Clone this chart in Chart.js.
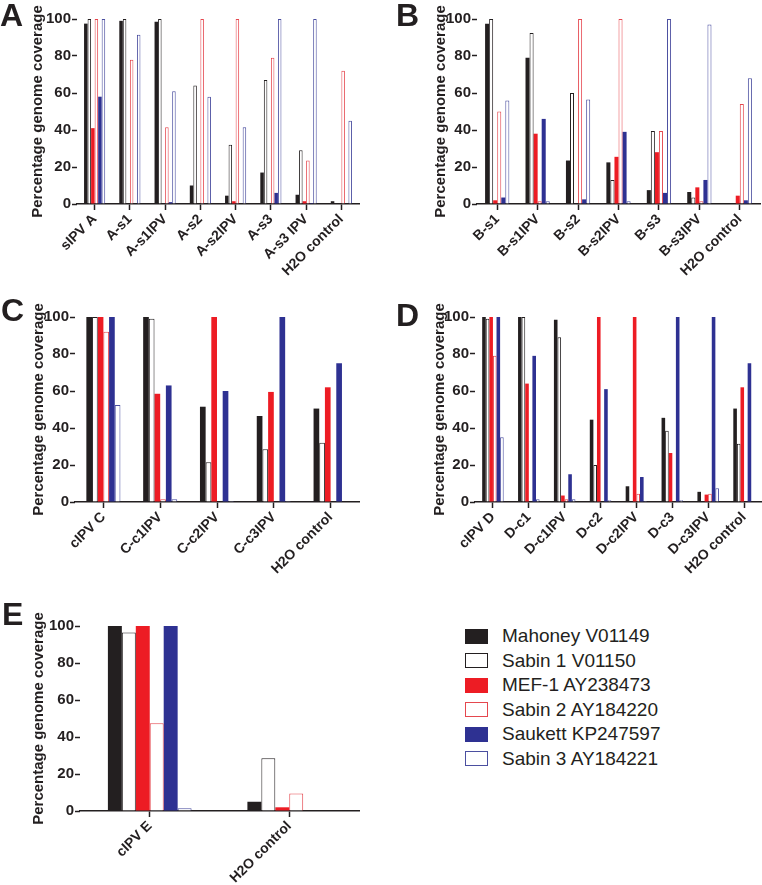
<!DOCTYPE html>
<html>
<head>
<meta charset="utf-8">
<script src="https://cdn.jsdelivr.net/npm/chart.js@4.4.1/dist/chart.umd.min.js"></script>
<style>
    body { margin: 0; background: #fff; font-family: "Liberation Sans", Arial, sans-serif; }
    #wrap { position: relative; width: 762px; height: 885px; overflow: hidden; }
    canvas { position: absolute; }
    .letra { position: absolute; font-weight: bold; font-size: 32px; line-height: 1; color: #231f20; }
    #legenda { position: absolute; left: 465px; top: 624px; font-size: 19px; color: #231f20; }
    .linha { height: 24.5px; display: flex; align-items: center; white-space: nowrap; }
    .caixa { width: 23px; height: 15px; box-sizing: border-box; margin-right: 14px; }
</style>
</head>
<body>
<div id="wrap">
    <canvas id="cA"></canvas>
    <canvas id="cB"></canvas>
    <canvas id="cC"></canvas>
    <canvas id="cD"></canvas>
    <canvas id="cE"></canvas>
    <div class="letra" style="left:0px;top:-1px">A</div>
    <div class="letra" style="left:396px;top:-1px">B</div>
    <div class="letra" style="left:1px;top:294px">C</div>
    <div class="letra" style="left:396px;top:299px">D</div>
    <div class="letra" style="left:2px;top:598px">E</div>
    <div id="legenda"></div>
</div>
<script>
// Séries (mesma ordem em todos os painéis)
const nomesSeries = ['Mahoney V01149', 'Sabin 1 V01150', 'MEF-1 AY238473', 'Sabin 2 AY184220', 'Saukett KP247597', 'Sabin 3 AY184221'];

// Painel A
const categoriasA = ['sIPV A', 'A-s1', 'A-s1IPV', 'A-s2', 'A-s2IPV', 'A-s3', 'A-s3 IPV', 'H2O control'];
const mahoneyA = [97.5, 99, 98.5, 10, 4.5, 17, 5, 1.5];
const sabin1A  = [100, 100, 100, 64, 32, 67, 29, 0];
const mef1A    = [41, 0, 0, 0, 1.5, 0, 1.5, 0];
const sabin2A  = [100, 78, 41.5, 100, 100, 79, 23.5, 72];
const saukettA = [58, 0, 1, 0, 0, 6, 0.5, 0];
const sabin3A  = [100, 91.5, 61, 58, 41.5, 100, 100, 45];

// Painel B
const categoriasB = ['B-s1', 'B-s1IPV', 'B-s2', 'B-s2IPV', 'B-s3', 'B-s3IPV', 'H2O control'];
const mahoneyB = [97.5, 79, 23.5, 22.5, 7.5, 6.5, 0];
const sabin1B  = [100, 92.5, 60, 13, 39.5, 3.5, 0];
const mef1B    = [2, 38, 0, 25.5, 28, 9, 4.5];
const sabin2B  = [50, 1.5, 100, 100, 39.5, 1.5, 54];
const saukettB = [3.5, 46, 2.5, 39, 6, 13, 2];
const sabin3B  = [56, 1.5, 56.5, 1.5, 100, 97, 68];

// Painel C
const categoriasC = ['cIPV C', 'C-c1IPV', 'C-c2IPV', 'C-c3IPV', 'H2O control'];
const mahoneyC = [100, 100, 51.5, 46.5, 50.5];
const sabin1C  = [100, 99, 21.5, 28.5, 32];
const mef1C    = [100, 58.5, 100, 59.5, 62];
const sabin2C  = [92, 1.5, 0, 0, 0];
const saukettC = [100, 63, 60, 100, 75];
const sabin3C  = [52.5, 1.5, 0.5, 0.5, 0];

// Painel D
const categoriasD = ['cIPV D', 'D-c1', 'D-c1IPV', 'D-c2', 'D-c2IPV', 'D-c3', 'D-c3IPV', 'H2O control'];
const mahoneyD = [100, 100, 98.5, 44.5, 8.5, 45.5, 5.5, 50.5];
const sabin1D  = [99, 100, 89, 20, 0, 38.5, 0, 31.5];
const mef1D    = [100, 64, 3.5, 100, 100, 26.5, 4, 62];
const sabin2D  = [79, 0, 1.5, 0, 4.5, 0, 4.5, 0];
const saukettD = [100, 79, 15, 61, 13.5, 100, 100, 75];
const sabin3D  = [35, 1.5, 1.5, 1, 0.5, 1, 7.5, 0];

// Painel E
const categoriasE = ['cIPV E', 'H2O control'];
const mahoneyE = [100, 5];
const sabin1E  = [96.5, 28.5];
const mef1E    = [100, 2];
const sabin2E  = [47.5, 9.5];
const saukettE = [100, 0];
const sabin3E  = [1.5, 0];

// Estilo das séries
const corFundo = ['#231f20', '#ffffff', '#ed1c24', '#ffffff', '#2e3192', '#ffffff'];
const corBorda = ['#231f20', '#231f20', '#ed1c24', '#e5474e', '#2e3192', '#4b4fa0'];
const larguraBorda = [0, 1, 0, 1, 0, 1];

const corTexto = '#231f20';
const familia = '"Liberation Sans", Arial, sans-serif';

function criarPainel(id, pos, categorias, series) {
    const canvas = document.getElementById(id);
    canvas.width = pos.w;
    canvas.height = pos.h;
    canvas.style.left = pos.x + 'px';
    canvas.style.top = pos.y + 'px';
    canvas.style.width = pos.w + 'px';
    canvas.style.height = pos.h + 'px';

    return new Chart(canvas.getContext('2d'), {
        type: 'bar',
        data: {
            labels: categorias,
            datasets: series.map((valores, i) => ({
                label: nomesSeries[i],
                data: valores,
                backgroundColor: corFundo[i],
                borderColor: corBorda[i],
                borderWidth: larguraBorda[i],
                categoryPercentage: 0.6,
                barPercentage: 1.0
            }))
        },
        options: {
            responsive: false,
            animation: false,
            layout: { padding: { left: pos.padLeft, right: pos.padRight, top: pos.padTop, bottom: 0 } },
            plugins: { legend: { display: false }, tooltip: { enabled: false } },
            scales: {
                x: {
                    afterFit: s => { s.height = pos.alturaX; },
                    border: { display: true, color: corTexto, width: 1.5 },
                    grid: { display: true, drawOnChartArea: false, offset: false, tickLength: 6, tickColor: corTexto, tickWidth: 1.5 },
                    ticks: { color: corTexto, font: { family: familia, weight: 'bold', size: 14 }, maxRotation: 45, minRotation: 45, padding: 1, autoSkip: false }
                },
                y: {
                    min: 0,
                    max: 100,
                    afterFit: s => { s.width = pos.larguraY; },
                    border: { display: false },
                    grid: { display: true, drawOnChartArea: false, tickLength: 5, tickColor: corTexto, tickWidth: 1.5 },
                    ticks: { stepSize: 20, color: corTexto, font: { family: familia, weight: 'bold', size: 15 }, padding: 1 },
                    title: {
                        display: true,
                        text: 'Percentage genome coverage',
                        color: corTexto,
                        font: { family: familia, weight: 'bold', size: 15 },
                        padding: 0
                    }
                }
            }
        }
    });
}

criarPainel('cA', { x: 0, y: 0, w: 380, h: 290, padLeft: 29, padRight: 21, padTop: 19, larguraY: 48, alturaX: 86 },
    categoriasA, [mahoneyA, sabin1A, mef1A, sabin2A, saukettA, sabin3A]);
criarPainel('cB', { x: 380, y: 0, w: 382, h: 290, padLeft: 52, padRight: 2, padTop: 19, larguraY: 45, alturaX: 86 },
    categoriasB, [mahoneyB, sabin1B, mef1B, sabin2B, saukettB, sabin3B]);
criarPainel('cC', { x: 0, y: 290, w: 380, h: 300, padLeft: 30, padRight: 21, padTop: 27, larguraY: 45, alturaX: 88 },
    categoriasC, [mahoneyC, sabin1C, mef1C, sabin2C, saukettC, sabin3C]);
criarPainel('cD', { x: 380, y: 290, w: 382, h: 300, padLeft: 51, padRight: 0, padTop: 27, larguraY: 44, alturaX: 88 },
    categoriasD, [mahoneyD, sabin1D, mef1D, sabin2D, saukettD, sabin3D]);
criarPainel('cE', { x: 0, y: 596, w: 380, h: 289, padLeft: 30, padRight: 21, padTop: 30, larguraY: 50, alturaX: 74 },
    categoriasE, [mahoneyE, sabin1E, mef1E, sabin2E, saukettE, sabin3E]);

// Legenda (HTML)
const legenda = document.getElementById('legenda');
nomesSeries.forEach((nome, i) => {
    const linha = document.createElement('div');
    linha.className = 'linha';
    const borda = larguraBorda[i] ? '1.5px solid ' + corBorda[i] : '1px solid ' + corBorda[i];
    linha.innerHTML = `<span class="caixa" style="background:${corFundo[i]};border:${borda}"></span><span>${nome}</span>`;
    legenda.appendChild(linha);
});
</script>
</body>
</html>
